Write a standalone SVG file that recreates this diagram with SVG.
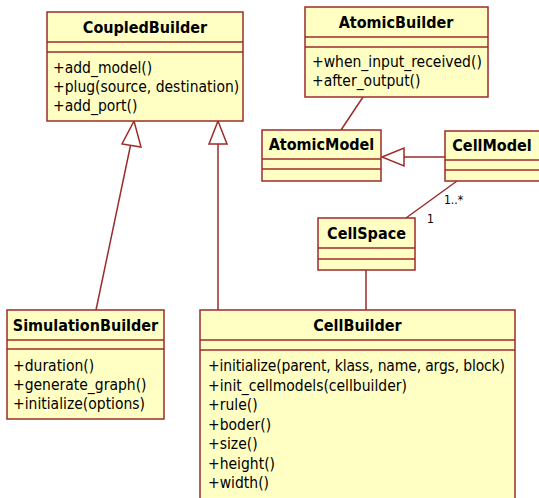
<svg xmlns="http://www.w3.org/2000/svg" width="539" height="498" viewBox="0 0 539 498">
<defs>
<style>
.box{fill:#ffffc4;stroke:#9c2b2b;stroke-width:1.5}
.ln{stroke:#9c2b2b;stroke-width:1.5;fill:none}
.t{font-family:"DejaVu Sans Condensed","DejaVu Sans",sans-serif;font-stretch:condensed;font-weight:bold;font-size:16px;fill:#000;text-anchor:middle}
.m{font-family:"DejaVu Sans Condensed","DejaVu Sans",sans-serif;font-stretch:condensed;font-size:15.5px;fill:#000}
.c{font-family:"DejaVu Sans Condensed","DejaVu Sans",sans-serif;font-stretch:condensed;font-size:12px;fill:#000}
.tri{fill:#fff;stroke:#9c2b2b;stroke-width:1.5}
</style>
</defs>
<rect width="539" height="498" fill="#fff"/>
<g id="connectors">
<line class="ln" x1="96" y1="310" x2="131" y2="143"/>
<polygon class="tri" points="134,121 122,144 141,147"/>
<line class="ln" x1="218" y1="310" x2="218" y2="144"/>
<polygon class="tri" points="218,121 209,144 227,144"/>
<line class="ln" x1="363" y1="97" x2="341" y2="130"/>
<line class="ln" x1="446" y1="157" x2="404" y2="157"/>
<polygon class="tri" points="382,157 404,148 404,166"/>
<line class="ln" x1="457" y1="181" x2="406" y2="218"/>
<text class="c" x="444" y="204">1..*</text>
<text class="c" x="427" y="223">1</text>
<line class="ln" x1="366" y1="270" x2="366" y2="310"/>
</g>
<g id="CoupledBuilder">
<rect class="box" x="47" y="12" width="196" height="109"/>
<line class="ln" x1="47" y1="42" x2="243" y2="42"/>
<line class="ln" x1="47" y1="52" x2="243" y2="52"/>
<text class="t" x="145" y="33">CoupledBuilder</text>
<text class="m" x="53" y="73">+add_model()</text>
<text class="m" x="53" y="92">+plug(source, destination)</text>
<text class="m" x="53" y="111">+add_port()</text>
</g>
<g id="AtomicBuilder">
<rect class="box" x="305" y="7" width="183" height="90"/>
<line class="ln" x1="305" y1="37" x2="488" y2="37"/>
<line class="ln" x1="305" y1="47" x2="488" y2="47"/>
<text class="t" x="396" y="28">AtomicBuilder</text>
<text class="m" x="312" y="67">+when_input_received()</text>
<text class="m" x="312" y="86">+after_output()</text>
</g>
<g id="AtomicModel">
<rect class="box" x="262" y="130" width="119" height="51"/>
<line class="ln" x1="262" y1="159" x2="381" y2="159"/>
<line class="ln" x1="262" y1="169" x2="381" y2="169"/>
<text class="t" x="321.5" y="150">AtomicModel</text>
</g>
<g id="CellModel">
<rect class="box" x="445" y="131" width="100" height="50"/>
<line class="ln" x1="445" y1="160" x2="545" y2="160"/>
<line class="ln" x1="445" y1="170" x2="545" y2="170"/>
<text class="t" x="492" y="151">CellModel</text>
</g>
<g id="CellSpace">
<rect class="box" x="318" y="218" width="97" height="52"/>
<line class="ln" x1="318" y1="248" x2="415" y2="248"/>
<line class="ln" x1="318" y1="259" x2="415" y2="259"/>
<text class="t" x="366.5" y="239">CellSpace</text>
</g>
<g id="SimulationBuilder">
<rect class="box" x="7" y="310" width="157" height="109"/>
<line class="ln" x1="7" y1="340" x2="164" y2="340"/>
<line class="ln" x1="7" y1="349" x2="164" y2="349"/>
<text class="t" x="85.5" y="331">SimulationBuilder</text>
<text class="m" x="13" y="371">+duration()</text>
<text class="m" x="13" y="390">+generate_graph()</text>
<text class="m" x="13" y="409">+initialize(options)</text>
</g>
<g id="CellBuilder">
<rect class="box" x="200" y="310" width="315" height="200"/>
<line class="ln" x1="200" y1="340" x2="515" y2="340"/>
<line class="ln" x1="200" y1="350" x2="515" y2="350"/>
<text class="t" x="357.5" y="331">CellBuilder</text>
<text class="m" x="208" y="371" textLength="297" lengthAdjust="spacing">+initialize(parent, klass, name, args, block)</text>
<text class="m" x="208" y="390.5">+init_cellmodels(cellbuilder)</text>
<text class="m" x="208" y="410">+rule()</text>
<text class="m" x="208" y="429.5">+boder()</text>
<text class="m" x="208" y="449">+size()</text>
<text class="m" x="208" y="468.5">+height()</text>
<text class="m" x="208" y="488">+width()</text>
</g>
</svg>
